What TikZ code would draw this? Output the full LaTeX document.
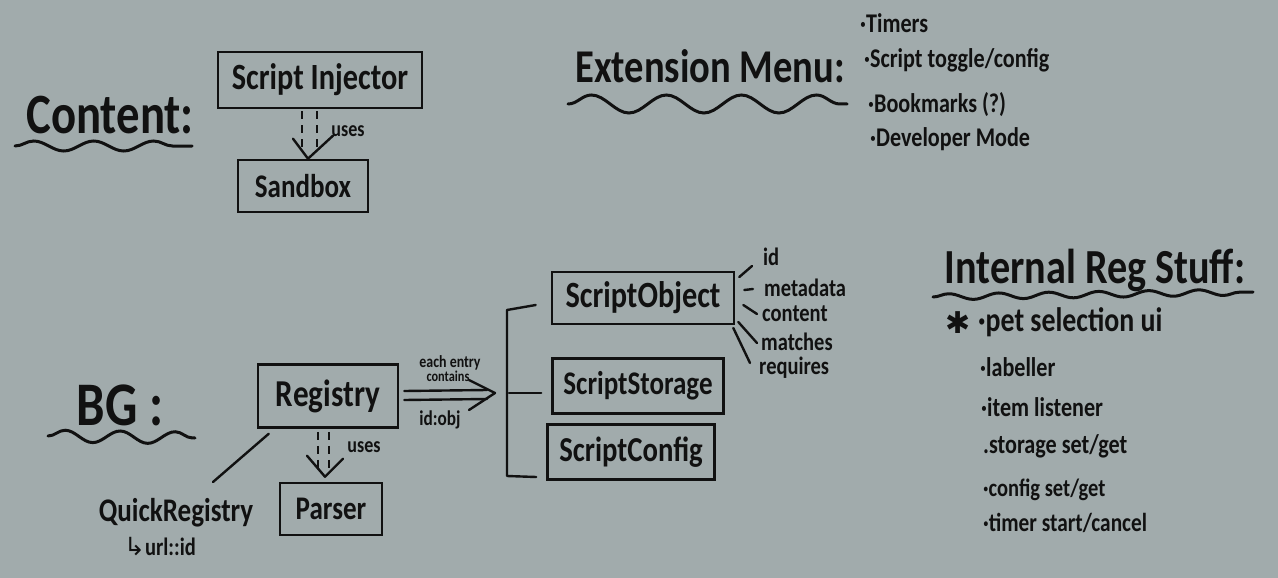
\documentclass[tikz,border=0pt]{standalone}
\usepackage{fontspec}
\setmainfont{Carlito}[FakeStretch=0.82, UprightFont=* Bold]
\newfontfamily\symfont{DejaVu Sans}
\usetikzlibrary{arrows.meta,decorations.pathmorphing,calc}
\definecolor{bg}{RGB}{161,171,172}
\definecolor{ink}{RGB}{17,17,17}
\tikzset{
  fz/.style={font=\fontsize{#1}{#1}\selectfont},
  hbox/.style={draw=ink, line width=2.6pt, inner sep=0pt},
  inkline/.style={draw=ink, line width=2.4pt, line cap=round, line join=round},
  usesline/.style={draw=ink, line width=2pt, dash pattern=on 8pt off 6pt},
  wavy/.style={draw=ink, line width=3pt, line cap=round, decorate},
  lbl/.style={anchor=west, fz=#1},
}
\begin{document}
\begin{tikzpicture}[x=1pt,y=-1pt, every node/.style={text=ink, inner sep=0pt}]
\fill[bg] (0,0) rectangle (1278,578);
\useasboundingbox (0,0) rectangle (1278,578);

% ---------- Content section
\node[fz=57] (contentT) at (110,115) {Content:};
\draw[wavy, decoration={snake, amplitude=5pt, segment length=60pt}] (15,146) -- (192,146);
\node[hbox, minimum width=204pt, minimum height=56pt, fz=37] (inj) at (320,80) {Script Injector};
\node[hbox, minimum width=130pt, minimum height=52pt, fz=33] (sand) at (303,186) {Sandbox};
\draw[usesline] ($(inj.south)+(-18,2)$) -- ($(sand.north)+(-1,-10)$);
\draw[usesline] ($(inj.south)+(-3,2)$) -- ($(sand.north)+(14,-10)$);
\draw[inkline] ($(sand.north)+(-10,-20)$) -- ($(sand.north)+(5,0)$) -- ($(sand.north)+(30,-23)$);
\node[fz=22] (usesA) at (348,131) {uses};

% ---------- Extension menu
\node[fz=47] (extT) at (710,66) {Extension Menu:};
\draw[wavy, decoration={snake, amplitude=9pt, segment length=75pt}] (568,104) -- (847,104);
\node[lbl=27] (m1) at (860,23) {·Timers};
\node[lbl=27] (m2) at (864,60) {·Script toggle/config};
\node[lbl=27] (m3) at (868,105) {·Bookmarks (?)};
\node[lbl=27] (m4) at (870,139) {·Developer Mode};

% ---------- BG section
\node[fz=62] (bgT) at (120,405) {BG :};
\draw[wavy, decoration={snake, amplitude=6pt, segment length=55pt}] (48,436) -- (195,438);
\node[hbox, minimum width=140pt, minimum height=63pt, fz=38] (reg) at (328,396) {Registry};
\node[hbox, minimum width=102pt, minimum height=52pt, fz=33] (pars) at (331,509) {Parser};
\draw[usesline] ($(reg.south)+(-10,3)$) -- ($(pars.north)+(-13,-13)$);
\draw[usesline] ($(reg.south)+(1,3)$) -- ($(pars.north)+(-2,-13)$);
\draw[inkline] ($(pars.north)+(-24,-26)$) -- ($(pars.north)+(-6,-5)$) -- ($(pars.north)+(12,-23)$);
\node[fz=22] (usesB) at (364,447) {uses};

\node[fz=33] (qr) at (176,513) {QuickRegistry};
\node[fz=25] (qrurl) at (160,547) {{\symfont ↳}url::id};
\draw[inkline] ($(reg.south west)+(12,5)$) -- (213,482);

% arrow registry -> bracket
\coordinate (bm) at (509,393);
\draw[inkline] ($(reg.east)+(5,-5)$) -- ($(bm)+(-22,-3)$);
\draw[inkline] ($(reg.east)+(5,4)$) -- ($(bm)+(-22,6)$);
\draw[inkline] ($(bm)+(-40,-13)$) -- ($(bm)+(-14,0)$) -- ($(bm)+(-40,17)$);
\node[fz=17] (each) at (450,363) {each entry};
\node[fz=15] (cont) at (448,376) {contains};
\node[fz=21] (idobj) at (440,420) {id:obj};

% bracket
\node[hbox, minimum width=182pt, minimum height=52pt, fz=37] (so) at (643,298) {ScriptObject};
\node[hbox, minimum width=171pt, minimum height=55pt, fz=33] (sst) at (638,386) {ScriptStorage};
\node[hbox, minimum width=167pt, minimum height=55pt, fz=35] (scf) at (631,452) {ScriptConfig};
\draw[inkline] ($(so.west)+(-15,7)$) -- (507,310) -- (507,476) -- ($(scf.west)+(-10,25)$);
\draw[inkline] (bm) -- ($(sst.west)+(-10,7)$);

% ScriptObject fields
\node[lbl=25] (fid) at (763,257) {id};
\node[lbl=25] (fmeta) at (764,288) {metadata};
\node[lbl=25] (fcont) at (762,314) {content};
\node[lbl=25] (fmat) at (761,342) {matches};
\node[lbl=25] (freq) at (759,368) {requires};
\draw[inkline] ($(so.east)+(4,-21)$) -- ($(fid.west)+(-11,9)$);
\draw[inkline] ($(so.east)+(9,-8)$) -- ($(fmeta.west)+(-11,1)$);
\draw[inkline] ($(so.east)+(8,7)$) -- ($(fcont.west)+(-5,0)$);
\draw[inkline] ($(so.east)+(3,24)$) -- ($(fmat.west)+(-4,1)$);
\draw[inkline] ($(so.east)+(-2,30)$) -- ($(freq.west)+(-9,-5)$);

% ---------- Internal Reg Stuff
\node[fz=49] (intT) at (1095,270) {Internal Reg Stuff:};
\draw[wavy, decoration={snake, amplitude=3pt, segment length=50pt}] (933,297) -- (1253,292);
\node[fz=30] (star) at (958,323) {\symfont ✱};
\node[lbl=34] (i1) at (978,322) {·pet selection ui};
\node[lbl=27] (i2) at (980,367) {·labeller};
\node[lbl=27] (i3) at (981,407) {·item listener};
\node[lbl=27] (i4) at (983,446) {.storage set/get};
\node[lbl=25] (i5) at (983,490) {·config set/get};
\node[lbl=26] (i6) at (983,523) {·timer start/cancel};
\end{tikzpicture}
\end{document}
